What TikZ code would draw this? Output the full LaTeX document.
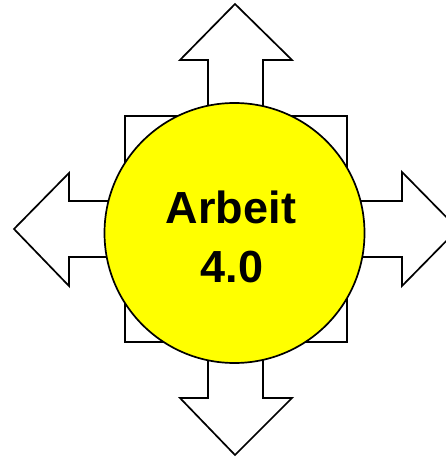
\documentclass[tikz,border=0pt]{standalone}
\usepackage{fontspec}
\setmainfont{Liberation Sans}
\definecolor{sunyellow}{RGB}{255,255,0}
\begin{document}
\begin{tikzpicture}[x=1pt,y=-1pt,
  shape line/.style={draw=black,line width=1.7pt,fill=white,line join=miter},
  hub/.style={circle,draw=black,line width=1.7pt,fill=sunyellow,minimum size=260pt,inner sep=0pt},
  hubtext/.style={anchor=base,inner sep=0pt,font=\fontsize{45}{54}\selectfont\bfseries}]
\useasboundingbox (0,0) rectangle (446,457);
\clip (0,0) rectangle (446,457);
% square behind the circle
\draw[shape line] (125,116) rectangle (347,342);
% arrows
\draw[shape line] (208,140) -- (208,60) -- (180,60) -- (235,4) -- (292,60) -- (263,60) -- (263,140);
\draw[shape line] (208,320) -- (208,398) -- (180,398) -- (235,455) -- (292,398) -- (263,398) -- (263,320);
\draw[shape line] (130,201) -- (69,201) -- (69,173) -- (14,229) -- (69,286) -- (69,257) -- (130,257);
\draw[shape line] (340,201) -- (402,201) -- (402,172) -- (458,229) -- (402,286) -- (402,257) -- (340,257);
% hub
\node[hub] (hub) at (234.5,233) {};
\node[hubtext] (line1) at (231,223) {Arbeit};
\node[hubtext] (line2) at (232,282) {4.0};
\end{tikzpicture}
\end{document}
